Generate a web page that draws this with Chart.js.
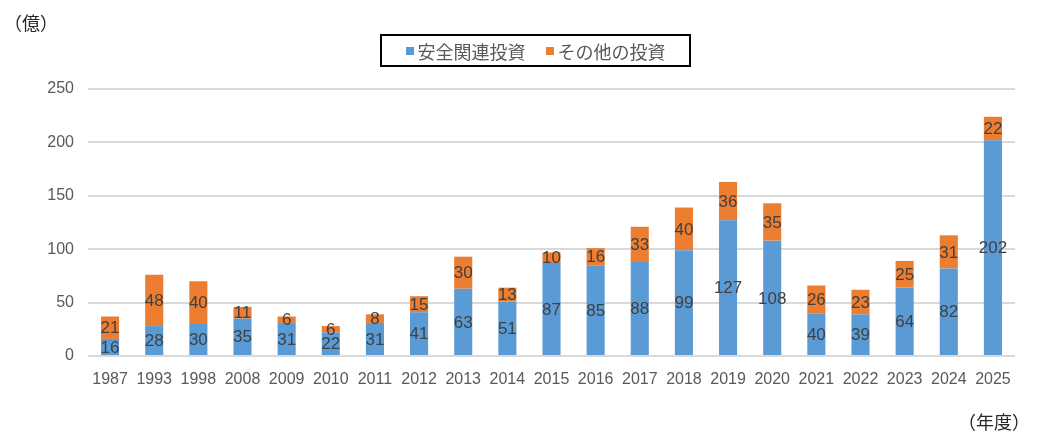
<!DOCTYPE html>
<html>
<head>
<meta charset="utf-8">
<script src="https://cdn.jsdelivr.net/npm/chart.js@4/dist/chart.umd.min.js"></script>
<style>
  html, body { margin: 0; padding: 0; background: #fff; }
  #wrap { position: relative; width: 1037px; height: 441px; }
  #unit-y { position: absolute; left: 4px; top: 9px; font: 18px "Noto Sans CJK JP", sans-serif; color: #262626; }
  #unit-x { position: absolute; right: 7px; top: 408px; font: 18px "Noto Sans CJK JP", sans-serif; color: #262626; }
  #legend {
    position: absolute; left: 380px; top: 34px; width: 307px; height: 29px;
    border: 2px solid #000; box-sizing: content-box;
    font: 18px "Noto Sans CJK JP", sans-serif; color: #595959;
    display: flex; align-items: center; justify-content: center;
  }
  #legend span.box { display: inline-block; width: 8px; height: 8px; margin-right: 4px; }
  #legend span.item { display: inline-flex; align-items: center; line-height: 1; }
</style>
</head>
<body>
<div id="wrap">
  <canvas id="chart" width="1037" height="441"></canvas>
  <div id="unit-y">（億）</div>
  <div id="unit-x">（年度）</div>
  <div id="legend"></div>
</div>
<script>
// data
const years = ['1987', '1993', '1998', '2008', '2009', '2010', '2011', '2012', '2013', '2014', '2015',
  '2016', '2017', '2018', '2019', '2020', '2021', '2022', '2023', '2024', '2025'];
const safetyInvest = [16, 28, 30, 35, 31, 22, 31, 41, 63, 51, 87, 85, 88, 99, 127, 108, 40, 39, 64, 82, 202];
const otherInvest = [21, 48, 40, 11, 6, 6, 8, 15, 30, 13, 10, 16, 33, 40, 36, 35, 26, 23, 25, 31, 22];
const seriesNames = ['安全関連投資', 'その他の投資'];
const yTicks = [0, 50, 100, 150, 200, 250];

const colors = ['#5B9BD5', '#ED7D31'];
const tickFont = { family: '"Liberation Sans", Arial, sans-serif', size: 16 };
const labelFont = { family: '"Liberation Sans", Arial, sans-serif', size: 17 };

// Legend (HTML)
document.getElementById('legend').innerHTML = seriesNames.map((n, i) =>
  `<span class="item" style="margin:0 ${i === 0 ? '20px 0 0' : '0 0 0'}"><span class="box" style="background:${colors[i]}"></span>${n}</span>`
).join('');

// Draw value labels centred in each segment
const valueLabels = {
  id: 'valueLabels',
  afterDatasetsDraw(chart) {
    const ctx = chart.ctx;
    ctx.save();
    ctx.font = `${labelFont.size}px ${labelFont.family}`;
    ctx.fillStyle = '#404040';
    ctx.textAlign = 'center';
    ctx.textBaseline = 'middle';
    chart.data.datasets.forEach((ds, di) => {
      chart.getDatasetMeta(di).data.forEach((bar, i) => {
        const mid = (bar.y + bar.base) / 2;
        ctx.fillText(String(ds.data[i]), bar.x, mid + 1);
      });
    });
    ctx.restore();
  }
};

new Chart(document.getElementById('chart'), {
  type: 'bar',
  data: {
    labels: years,
    datasets: [
      { label: seriesNames[0], data: safetyInvest, backgroundColor: colors[0] },
      { label: seriesNames[1], data: otherInvest, backgroundColor: colors[1] }
    ]
  },
  options: {
    responsive: false,
    animation: false,
    layout: { padding: { top: 89, right: 22, left: 0, bottom: 0 } },
    plugins: { legend: { display: false }, tooltip: { enabled: false } },
    datasets: { bar: { barPercentage: 0.41, categoryPercentage: 1 } },
    scales: {
      x: {
        stacked: true,
        grid: { display: false },
        border: { display: false },
        ticks: { color: '#595959', font: tickFont, padding: 6, maxRotation: 0, autoSkip: false },
        afterFit(scale) { scale.height = 85; }
      },
      y: {
        stacked: true,
        min: 0, max: 250,
        afterBuildTicks(scale) { scale.ticks = yTicks.map(v => ({ value: v })); },
        grid: { color: '#d9d9d9', lineWidth: 2, drawTicks: false },
        border: { display: false },
        ticks: { color: '#595959', font: tickFont, padding: 14 },
        afterFit(scale) { scale.width = 88; }
      }
    }
  },
  plugins: [valueLabels]
});
</script>
</body>
</html>
